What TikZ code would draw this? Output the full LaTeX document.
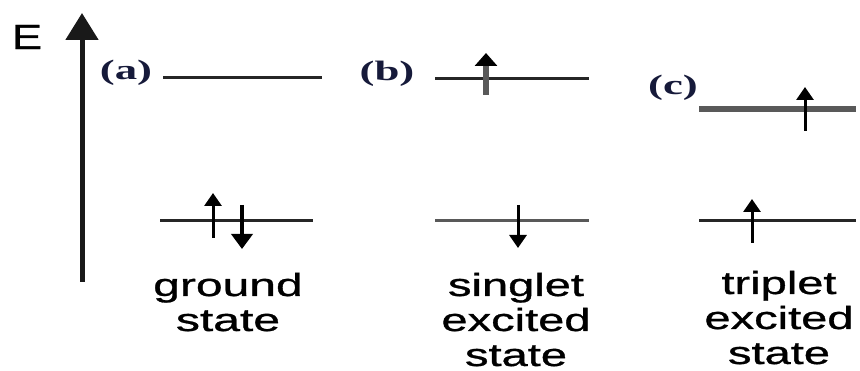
\documentclass[tikz,border=0pt]{standalone}
\usepackage{fontspec}
\setmainfont{Liberation Sans}
\newfontfamily\capfont[FakeBold=0.8]{Liberation Sans}
\newfontfamily\labserif{Liberation Serif}
\usetikzlibrary{arrows.meta}
\definecolor{labcol}{RGB}{22,26,58}
\tikzset{
  level/.style={line width=3pt, black!85},
  spin/.style={line width=3pt, black, -{Triangle[width=17pt,length=13pt]}},
  spinbold/.style={line width=4pt, black, -{Triangle[width=21pt,length=15pt]}},
  axisarrow/.style={line width=5pt, black!90, -{Triangle[width=32pt,length=27pt]}},
  caption/.style={inner sep=0pt, anchor=base},
  tag/.style={inner sep=0pt, font=\labserif\bfseries\fontsize{28}{30}\selectfont, text=labcol}
}
\newcommand{\stretchtext}[2]{\scalebox{#1}[1]{\capfont\fontsize{32}{35}\selectfont\begin{tabular}[t]{@{}c@{}}#2\end{tabular}}}
\begin{document}
\begin{tikzpicture}[x=1pt,y=-1pt]
\useasboundingbox[fill=white] (0,0) rectangle (860,371);
% energy axis
\coordinate (axb) at (82,282);
\coordinate (axt) at (82,13);
\draw[axisarrow] (axb) -- (axt);
\node[inner sep=0pt] (E) at (27,37) {\scalebox{1.3}[1]{\capfont\fontsize{35}{38}\selectfont E}};
% labels
\node[tag] (la) at (126,73) {\scalebox{1.6}[1]{(a)}};
\node[tag] (lb) at (387,74) {\scalebox{1.6}[1]{(b)}};
\node[tag] (lc) at (673,88) {\scalebox{1.6}[1]{(c)}};
% (a) ground state
\coordinate (a1l) at (163,78); \coordinate (a1r) at (322,78);
\coordinate (a0l) at (160,221); \coordinate (a0r) at (313,221);
\draw[level] (a1l) -- (a1r);
\draw[level] (a0l) -- (a0r);
\coordinate (aus) at (213,238); \coordinate (aue) at (213,193);
\coordinate (ads) at (242,205); \coordinate (ade) at (242,249);
\draw[spin] (aus) -- (aue);
\draw[spinbold] (ads) -- (ade);
% (b) singlet
\coordinate (b1l) at (435,79); \coordinate (b1r) at (589,79);
\coordinate (b0l) at (435,221); \coordinate (b0r) at (589,221);
\draw[level] (b1l) -- (b1r);
\draw[level, line width=3pt, black!65] (b0l) -- (b0r);
\coordinate (bus) at (486,95); \coordinate (bue) at (486,53);
\coordinate (bds) at (518,205); \coordinate (bde) at (518,248);
\draw[line width=6pt, black!65, -{Triangle[width=22pt,length=13pt,color=black]}] (bus) -- (bue);
\draw[spin] (bds) -- (bde);
% (c) triplet
\coordinate (c1l) at (699,109); \coordinate (c1r) at (856,109);
\coordinate (c0l) at (699,221); \coordinate (c0r) at (856,221);
\draw[level, line width=6pt, black!65] (c1l) -- (c1r);
\draw[level] (c0l) -- (c0r);
\coordinate (cus) at (805,131); \coordinate (cue) at (805,87);
\coordinate (cls) at (752,243); \coordinate (cle) at (752,199);
\draw[spin] (cus) -- (cue);
\draw[spin] (cls) -- (cle);
% captions
\node[caption] (ta) at (228,296) {\stretchtext{1.5}{ground\\state}};
\node[caption] (tb) at (516,296) {\stretchtext{1.47}{singlet\\excited\\state}};
\node[caption] (tc) at (779,294) {\stretchtext{1.47}{triplet\\excited\\state}};
\end{tikzpicture}
\end{document}
